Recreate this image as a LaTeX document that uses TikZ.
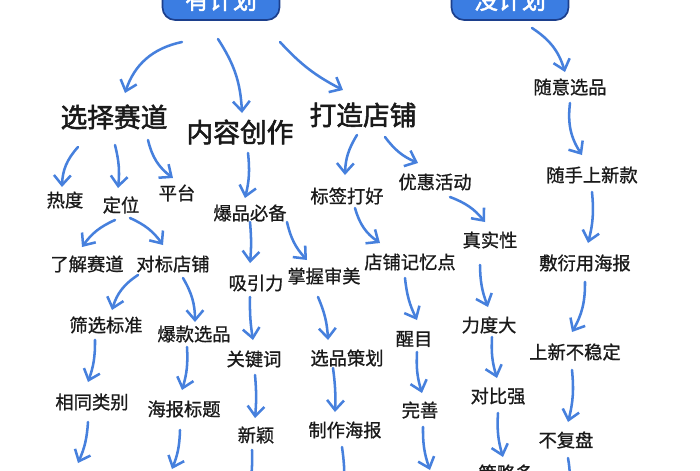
\documentclass[tikz,border=0pt]{standalone}
\usepackage{fontspec}
\usepackage{xcolor}
\usepackage{tikz}
\usetikzlibrary{arrows.meta, calc}
\newfontfamily\cjk[FakeBold=0.9]{Noto Sans CJK SC}
\newfontfamily\cjkb[FakeBold=2]{Noto Sans CJK SC}
\definecolor{arrblue}{HTML}{4680DD}
\definecolor{boxblue}{HTML}{3B7DE2}
\definecolor{boxline}{HTML}{1C3F8C}
\definecolor{ink}{HTML}{1A1A1A}

\begin{document}
\begin{tikzpicture}[x=0.025cm, y=-0.025cm,
		plan/.style={draw=boxline, line width=1.2pt, fill=boxblue, rounded corners=9pt,
			minimum width=117*0.025cm, minimum height=40*0.025cm, text=white, font=\cjkb\fontsize{17}{17}\selectfont},
		big/.style={text=ink, font=\cjkb\fontsize{19}{19}\selectfont, inner sep=0pt},
		small/.style={text=ink, font=\cjk\fontsize{13}{13}\selectfont, inner sep=0pt},
		arr/.style={draw=arrblue, line width=1.8pt, line cap=round,
			-{Straight Barb[length=7pt, width=12pt, line width=1.8pt]}}]
		\useasboundingbox (0,0) rectangle (700,470);
		\fill[white] (0,0) rectangle (700,470);
		
		% Define the nodes
		\node (yjh) [plan] at (221,0) {有计划};
		\node (mjh) [plan] at (510,0) {没计划};
		
		\node (xzsd) [big] at (114,117) {选择赛道};
		\node (nrcz) [big] at (240,132) {内容创作};
		\node (dzdp) [big] at (363,115) {打造店铺};
		
		\node (rd) [small] at (65,200) {热度};
		\node (dw) [small] at (121,205) {定位};
		\node (pt) [small] at (177,193) {平台};
		\node (ljsd) [small] at (87,264) {了解赛道};
		\node (dbdp) [small] at (173,264) {对标店铺};
		\node (sxbz) [small] at (106,325) {筛选标准};
		\node (bkxp) [small] at (194,334) {爆款选品};
		\node (xtlb) [small] at (92,402) {相同类别};
		\node (hbbt) [small] at (184,409) {海报标题};
		
		\node (bpbb) [small] at (250,213) {爆品必备};
		\node (xyl) [small] at (256,283) {吸引力};
		\node (zwsm) [small] at (324,276) {掌握审美};
		\node (gjc) [small] at (254,359) {关键词};
		\node (xpch) [small] at (347,358) {选品策划};
		\node (xy) [small] at (256,435) {新颖};
		\node (zzhb) [small] at (345,430) {制作海报};
		
		\node (bqdh) [small] at (347,196) {标签打好};
		\node (yhhd) [small] at (435,182) {优惠活动};
		\node (dpjyd) [small] at (410,262) {店铺记忆点};
		\node (zsx) [small] at (490,240) {真实性};
		\node (xm) [small] at (414,339) {醒目};
		\node (ldd) [small] at (489,325) {力度大};
		\node (ws) [small] at (420,410) {完善};
		\node (dbq) [small] at (498,396) {对比强};
		\node (clq) [small] at (506,473) {策略多};
		
		\node (syxp) [small] at (570,87) {随意选品};
		\node (ssxk) [small] at (592,175) {随手上新款};
		\node (fyhb) [small] at (585,263) {敷衍用海报};
		\node (xxbwd) [small] at (575,352) {上新不稳定};
		\node (bfp) [small] at (566,440) {不复盘};
		
		% free ends below the page
		\coordinate (xtlbend) at (78,463);
		\coordinate (hbbtend) at (172,469);
		\coordinate (xyend) at (250,485);
		\coordinate (zzhbend) at (344,485);
		\coordinate (wsend) at (430,470);
		\coordinate (bfpend) at (568,490);
		
		% Connect the nodes with arrows
		\draw[arr] ([shift={(-39,42)}]yjh.center) to[bend right=30] ([shift={(11,-24)}]xzsd.center);
		\draw[arr] ([shift={(-3,39)}]yjh.center) to[bend left=15] ([shift={(2,-19)}]nrcz.center);
		\draw[arr] ([shift={(59,42)}]yjh.center) to[bend right=10] ([shift={(-20,-25)}]dzdp.center);
		
		\draw[arr] ([shift={(-36,30)}]xzsd.center) to[bend right=20] ([shift={(-3,-13)}]rd.center);
		\draw[arr] ([shift={(1,28)}]xzsd.center) to[bend left=10] ([shift={(-3,-17)}]dw.center);
		\draw[arr] ([shift={(34,23)}]xzsd.center) to[bend right=20] ([shift={(-4,-15)}]pt.center);
		\draw[arr] ([shift={(-6,15)}]dw.center) to[bend right=15] ([shift={(-5,-17)}]ljsd.center);
		\draw[arr] ([shift={(9,13)}]dw.center) to[bend left=15] ([shift={(-10,-19)}]dbdp.center);
		\draw[arr] ([shift={(-35,11)}]dbdp.center) to[bend right=20] ([shift={(6,-15)}]sxbz.center);
		\draw[arr] ([shift={(10,14)}]dbdp.center) to[bend left=15] ([shift={(1,-12)}]bkxp.center);
		\draw[arr] ([shift={(-11,15)}]sxbz.center) to[bend left=10] ([shift={(-4,-20)}]xtlb.center);
		\draw[arr] ([shift={(-7,13)}]bkxp.center) to[bend left=10] ([shift={(-2,-19)}]hbbt.center);
		\draw[arr] ([shift={(-4,20)}]xtlb.center) to[bend left=10] (xtlbend);
		\draw[arr] ([shift={(-4,21)}]hbbt.center) to[bend left=10] (hbbtend);
		
		\draw[arr] ([shift={(8,21)}]nrcz.center) to[bend left=10] ([shift={(-5,-15)}]bpbb.center);
		\draw[arr] ([shift={(0,9)}]bpbb.center) to[bend left=5] ([shift={(-6,-20)}]xyl.center);
		\draw[arr] ([shift={(37,9)}]bpbb.center) to[bend right=15] ([shift={(-17,-16)}]zwsm.center);
		\draw[arr] ([shift={(-6,14)}]xyl.center) to[bend right=5] ([shift={(-1,-19)}]gjc.center);
		\draw[arr] ([shift={(1,16)}]gjc.center) to[bend left=5] ([shift={(-1,-17)}]xy.center);
		\draw[arr] ([shift={(-4,15)}]xy.center) to[bend left=5] (xyend);
		\draw[arr] ([shift={(-6,21)}]zwsm.center) to[bend left=10] ([shift={(-19,-18)}]xpch.center);
		\draw[arr] ([shift={(-14,10)}]xpch.center) to[bend left=5] ([shift={(-10,-18)}]zzhb.center);
		\draw[arr] ([shift={(-3,17)}]zzhb.center) to[bend left=5] (zzhbend);
		
		\draw[arr] ([shift={(-6,20)}]dzdp.center) to[bend right=15] ([shift={(-2,-21)}]bqdh.center);
		\draw[arr] ([shift={(22,22)}]dzdp.center) to[bend right=15] ([shift={(-17,-19)}]yhhd.center);
		\draw[arr] ([shift={(8,12)}]bqdh.center) to[bend right=20] ([shift={(-30,-19)}]dpjyd.center);
		\draw[arr] ([shift={(15,15)}]yhhd.center) to[bend left=15] ([shift={(-5,-18)}]zsx.center);
		\draw[arr] ([shift={(-5,16)}]dpjyd.center) to[bend right=10] ([shift={(3,-19)}]xm.center);
		\draw[arr] ([shift={(3,13)}]xm.center) to[bend right=10] ([shift={(2,-17)}]ws.center);
		\draw[arr] ([shift={(3,17)}]ws.center) to[bend right=10] (wsend);
		\draw[arr] ([shift={(-10,25)}]zsx.center) to[bend right=10] ([shift={(-1,-18)}]ldd.center);
		\draw[arr] ([shift={(3,12)}]ldd.center) to[bend right=10] ([shift={(-1,-18)}]dbq.center);
		\draw[arr] ([shift={(0,17)}]dbq.center) to[bend right=10] ([shift={(-3,-16)}]clq.center);
		
		\draw[arr] ([shift={(22,28)}]mjh.center) to[bend left=20] ([shift={(-5,-15)}]syxp.center);
		\draw[arr] ([shift={(0,16)}]syxp.center) to[bend right=20] ([shift={(-10,-20)}]ssxk.center);
		\draw[arr] ([shift={(0,17)}]ssxk.center) to[bend left=10] ([shift={(3,-20)}]fyhb.center);
		\draw[arr] ([shift={(0,19)}]fyhb.center) to[bend left=15] ([shift={(-3,-20)}]xxbwd.center);
		\draw[arr] ([shift={(-3,18)}]xxbwd.center) to[bend left=10] ([shift={(2,-18)}]bfp.center);
		\draw[arr] ([shift={(2,18)}]bfp.center) to[bend left=10] (bfpend);
	\end{tikzpicture}
\end{document}
